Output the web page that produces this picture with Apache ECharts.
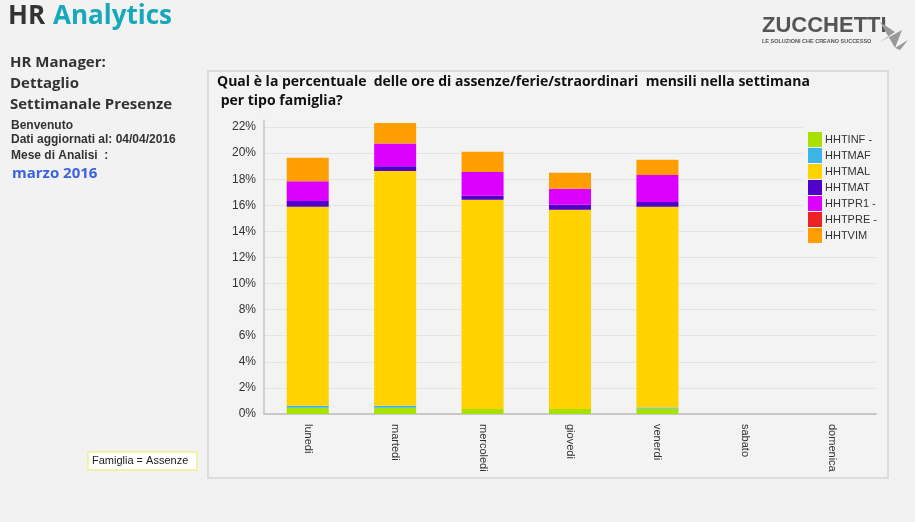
<!DOCTYPE html>
<html><head><meta charset="utf-8">
<script src="https://cdn.jsdelivr.net/npm/echarts@6/dist/echarts.min.js"></script>
<style>html,body{margin:0;padding:0;background:#f2f2f2;}#c{width:915px;height:522px;}</style>
</head><body><div id="c"></div>
<script>
const categories = ['lunedi','martedi','mercoledi','giovedi','venerdi','sabato','domenica'];
const seriesNames = ['HHTINF -','HHTMAF','HHTMAL','HHTMAT','HHTPR1 -','HHTPRE -','HHTVIM'];
const HHTINF = [0.48, 0.48, 0.38, 0.38, 0.42, 0, 0];
const HHTMAF = [0.15, 0.15, 0, 0, 0.08, 0, 0];
const HHTMAL = [15.25, 17.99, 16.04, 15.28, 15.39, 0, 0];
const HHTMAT = [0.44, 0.38, 0.31, 0.38, 0.36, 0, 0];
const HHTPR1 = [1.53, 1.74, 1.82, 1.23, 2.07, 0, 0];
const HHTPRE = [0, 0, 0, 0, 0, 0, 0];
const HHTVIM = [1.79, 1.56, 1.56, 1.23, 1.17, 0, 0];
const yTicks = {min: 0, max: 22.5, interval: 2};
const colors = ['#a8e000','#3cb4ea','#ffd200','#5000c8','#dc00ff','#ee2222','#ff9e00'];
const values = [HHTINF, HHTMAF, HHTMAL, HHTMAT, HHTPR1, HHTPRE, HHTVIM];

const chart = echarts.init(document.getElementById('c'), null, {renderer: 'canvas'});
const font = '"Liberation Sans", Arial, sans-serif';
chart.setOption({
  backgroundColor: '#f2f2f2',
  animation: false,
  color: colors,
  graphic: [
    {type:'rect', shape:{x:208, y:71, width:680, height:407}, style:{fill:'#f3f3f3', stroke:'#dcdcdc', lineWidth:2}, z:-10},
    {type:'text', left:8, top:4, style:{text:'HR', font:'bold 26px "Open Sans", sans-serif', fill:'#333333'}},
    {type:'text', left:53, top:4, style:{text:'Analytics', font:'bold 26px "Open Sans", sans-serif', fill:'#17a8bb'}},
    {type:'text', left:10, top:55, style:{text:'HR Manager:', font:'bold 15px "Open Sans", sans-serif', fill:'#333'}},
    {type:'text', left:10, top:76, style:{text:'Dettaglio', font:'bold 15px "Open Sans", sans-serif', fill:'#333'}},
    {type:'text', left:10, top:97, style:{text:'Settimanale Presenze', font:'bold 15px "Open Sans", sans-serif', fill:'#333'}},
    {type:'text', left:11, top:120, style:{text:'Benvenuto', font:'bold 12px "Liberation Sans", sans-serif', fill:'#333'}},
    {type:'text', left:11, top:134, style:{text:'Dati aggiornati al: 04/04/2016', font:'bold 12px "Liberation Sans", sans-serif', fill:'#333'}},
    {type:'text', left:11, top:150, style:{text:'Mese di Analisi  :', font:'bold 12px "Liberation Sans", sans-serif', fill:'#333'}},
    {type:'text', left:12, top:166, style:{text:'marzo 2016', font:'bold 15px "Open Sans", sans-serif', fill:'#3c63e0'}},
    {type:'text', left:762, top:15, style:{text:'ZUCCHETTI', font:'bold 22px "Liberation Sans", sans-serif', fill:'#555'}},
    {type:'text', left:762, top:38, style:{text:'LE SOLUZIONI CHE CREANO SUCCESSO', font:'bold 5.5px "Liberation Sans", sans-serif', fill:'#555'}},
    {type:'polygon', shape:{points:[[880,22],[895,32],[880,42],[902,30],[895,48],[908,40],[900,50],[895,48]]}, style:{fill:'#999'}},
    {type:'rect', shape:{x:88, y:452, width:109, height:18}, style:{fill:'#ffffff', stroke:'#f0f090', lineWidth:1.5}},
    {type:'text', left:92, top:455, style:{text:'Famiglia = Assenze', font:'11px "Liberation Sans", Arial, sans-serif', fill:'#222'}},
    {type:'text', left:217, top:73, style:{text:'Qual è la percentuale  delle ore di assenze/ferie/straordinari  mensili nella settimana\n per tipo famiglia?', font:'bold 14px "Open Sans", sans-serif', fill:'#111', lineHeight:19}}
  ],
  legend: {
    orient: 'vertical', left: 803, top: 127, itemWidth: 14, itemHeight: 15, itemGap: 1,
    icon: 'rect', data: seriesNames,
    textStyle: {fontSize: 11, color: '#333', fontFamily: font, padding:[0,0,0,-2]},
    backgroundColor: '#f3f3f3'
  },
  grid: {left: 264, top: 120.5, width: 612, height: 293.5},
  xAxis: {
    type: 'category', data: categories,
    axisLine: {lineStyle: {color: '#c8c8c8', width: 2}},
    axisTick: {show: false},
    axisLabel: {rotate: -90, color: '#333', fontSize: 11, fontFamily: font, margin: 10}
  },
  yAxis: {
    type: 'value', min: yTicks.min, max: yTicks.max, interval: yTicks.interval,
    axisLine: {show: true, lineStyle: {color: '#d0d0d0', width: 2}},
    axisTick: {show: false},
    splitLine: {showMaxLine: false, lineStyle: {color: '#e4e4e4', width: 1}},
    axisLabel: {showMaxLabel: false, formatter: '{value}%', color: '#333', fontSize: 12, fontFamily: font, margin: 8}
  },
  series: seriesNames.map((n, i) => ({
    name: n, type: 'bar', stack: 'tot', barWidth: 42, data: values[i],
    itemStyle: {color: colors[i]}
  }))
});
</script></body></html>
